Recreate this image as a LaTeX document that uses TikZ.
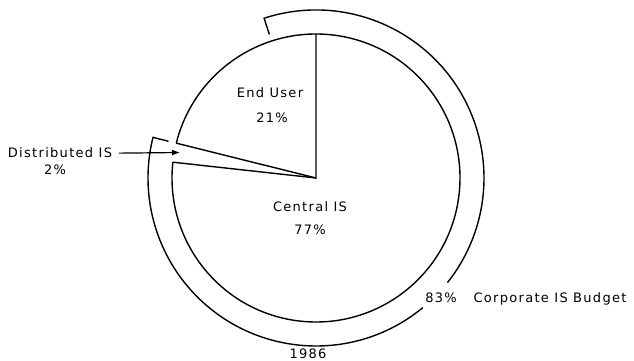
\documentclass[tikz,border=0pt]{standalone}
\usepackage{fontspec}
\setmainfont{DejaVu Sans}[LetterSpace=10]
\usetikzlibrary{calc,arrows.meta}
\begin{document}
\begin{tikzpicture}[x=1pt,y=1pt,
  line width=1.4pt,
  lbl/.style={inner sep=0pt,anchor=base,font=\fontsize{13}{15}\selectfont},
  ringline/.style={line width=1.4pt}]
\useasboundingbox (0,0) rectangle (634,361);
\coordinate (C) at (316,183);
% pie circle with gap at the distributed slice
\draw ($(C)+(173.7:144pt)$) arc[start angle=173.7, end angle=526, radius=144pt];
% slice boundaries
\draw ($(C)+(90:144pt)$) -- (C) -- ($(C)+(166:144pt)$);
\draw (C) -- ($(C)+(173.7:144pt)$);
% outer budget ring
\draw[ringline] ($(C)+(108:151pt)$) -- ($(C)+(108:168pt)$) arc[start angle=108, end angle=-38.5, radius=168pt];
\draw[ringline] ($(C)+(-50.5:168pt)$) arc[start angle=-50.5, end angle=-194, radius=168pt] -- ($(C)+(166:152pt)$);
% labels
\node[lbl] (eu) at (270,263) {End User};
\node[lbl] (eup) at (272,238) {21\%};
\node[lbl] (cis) at (310,149) {Central IS};
\node[lbl] (cisp) at (310,126) {77\%};
\node[lbl] (dis) at (60,203) {Distributed IS};
\node[lbl] (disp) at (55,186) {2\%};
\node[lbl] (bp) at (441,58) {83\%};
\node[lbl] (bud) at (550,58) {Corporate IS Budget};
\node[lbl] (yr) at (308,2.5) {1986};
\coordinate (tip) at (180,208.5);
\draw[line width=1.2pt,-{Latex[length=8pt,width=6pt]}] ([xshift=6pt]dis.east) -- (tip);
\end{tikzpicture}
\end{document}
